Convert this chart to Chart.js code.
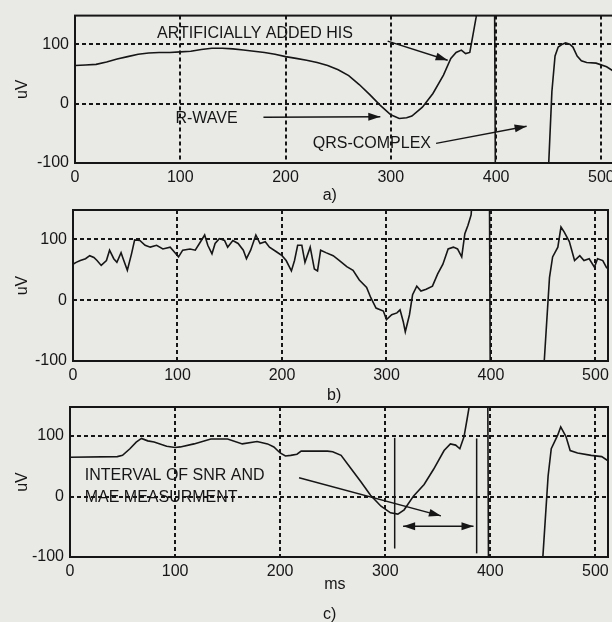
<!DOCTYPE html>
<html lang="en">
<head>
<meta charset="UTF-8">
<title>ECG with artificially added His signal</title>
<script src="https://cdn.jsdelivr.net/npm/chart.js"></script>
<style>
  html, body { margin: 0; padding: 0; }
  body {
    width: 612px;
    height: 622px;
    overflow: hidden;
    position: relative;
    background: #e9e9e6;
  }
  canvas { position: absolute; left: 0; }
</style>
</head>
<body>
<canvas id="chartA" width="640" height="205" style="top:0px"></canvas>
<canvas id="chartB" width="640" height="220" style="top:190px"></canvas>
<canvas id="chartC" width="640" height="232" style="top:390px"></canvas>
<script>
const xTicks = [0, 100, 200, 300, 400, 500];
const yTicks = [-100, 0, 100];

// a) clean signal with the artificially added His
const aMs = [0,10,20,30,40,50,60,70,80,90,100,110,120,130,140,150,160,170,180,190,200,210,220,230,240,250,260,270,280,290,300,308,315,320,330,340,350,357,362,367,371,375,378,381,386,392,398,400,449,450,453,456,459,463,466,470,473,477,481,486,495,505,512];
const aUv = [64,65,66,70,75,79,83,85,86,86,87,88,91,93,93,92,90,88,86,83,79,76,73,69,64,57,47,32,15,-3,-19,-25,-24,-21,-6,17,48,76,86,90,84,86,115,145,260,400,400,-400,-400,-100,20,80,95,100,102,100,95,80,72,69,68,62,54];

// b) noisy signal
const bMs = [0,3,7,12,16,20,23,27,32,35,39,42,46,48,52,56,59,64,69,74,80,86,93,97,101,105,112,117,121,126,129,133,136,140,145,148,153,158,163,166,170,175,179,184,188,195,200,204,209,212,215,219,222,227,231,234,237,242,249,255,262,268,274,281,285,290,297,300,305,310,313,316,318,322,325,329,333,338,344,349,354,359,364,368,372,375,378,381,386,392,398,400,450,451,456,459,464,467,470,475,480,485,489,494,499,502,507,511];
const bUv = [59,62,65,68,73,70,65,57,65,82,68,62,78,68,49,76,99,98,90,87,90,84,87,79,71,82,84,82,93,107,90,76,93,101,98,87,98,93,82,68,82,107,93,96,87,79,73,65,48,65,90,90,62,87,51,48,82,78,73,65,55,49,33,21,4,-13,-18,-32,-24,-21,-16,-35,-52,-24,9,23,15,18,23,43,59,84,87,84,71,109,123,140,260,400,400,-400,-400,-100,37,71,87,120,112,96,65,73,65,68,54,68,65,52];

// c) filtered signal
const cMs = [0,45,50,57,63,68,74,80,92,100,105,118,134,150,164,178,188,194,200,205,210,216,220,232,245,250,258,267,277,286,296,305,312,318,327,337,346,356,362,367,371,375,378,381,390,397,399,449,450,455,458,464,467,472,476,483,496,506,512];
const cUv = [65,66,68,79,90,96,92,90,83,81,82,87,95,95,87,91,87,82,72,67,68,70,75,75,75,74,68,47,24,2,-16,-27,-29,-22,1,20,45,76,87,85,79,99,129,160,400,400,-400,-400,-100,34,79,101,115,99,76,72,68,66,59];

const INK = '#161616';
const FONT = '"Liberation Sans", Arial, sans-serif';

function arrowHead(ctx, x1, y1, x2, y2) {
  const a = Math.atan2(y2 - y1, x2 - x1);
  ctx.beginPath();
  ctx.moveTo(x2, y2);
  ctx.lineTo(x2 - 12 * Math.cos(a) + 4 * Math.sin(a), y2 - 12 * Math.sin(a) - 4 * Math.cos(a));
  ctx.lineTo(x2 - 12 * Math.cos(a) - 4 * Math.sin(a), y2 - 12 * Math.sin(a) + 4 * Math.cos(a));
  ctx.closePath();
  ctx.fill();
}

function makeChart(id, ms, uv, box, notes) {
  const canvas = document.getElementById(id);
  const W = canvas.width, H = canvas.height;

  // frame, texts and arrows, placed in data units
  const notesPlugin = {
    id: 'notes',
    afterDraw(chart) {
      const ctx = chart.ctx;
      const xs = chart.scales.x, ys = chart.scales.y;
      const a = chart.chartArea;
      ctx.save();
      ctx.strokeStyle = INK;
      ctx.fillStyle = INK;
      ctx.lineWidth = 2;
      ctx.strokeRect(a.left, a.top, a.right - a.left, a.bottom - a.top);

      ctx.lineWidth = 1.5;
      (notes.arrows || []).forEach(n => {
        const x1 = xs.getPixelForValue(n.x1), y1 = ys.getPixelForValue(n.y1);
        const x2 = xs.getPixelForValue(n.x2), y2 = ys.getPixelForValue(n.y2);
        ctx.beginPath();
        ctx.moveTo(x1, y1);
        ctx.lineTo(x2, y2);
        ctx.stroke();
        if (n.head === 'end' || n.head === 'both') arrowHead(ctx, x1, y1, x2, y2);
        if (n.head === 'both') arrowHead(ctx, x2, y2, x1, y1);
      });

      ctx.font = '16px ' + FONT;
      ctx.textBaseline = 'middle';
      (notes.texts || []).forEach(n => {
        ctx.textAlign = n.align || 'center';
        ctx.fillText(n.t, xs.getPixelForValue(n.x), ys.getPixelForValue(n.y));
      });
      ctx.restore();
    }
  };

  return new Chart(canvas.getContext('2d'), {
    type: 'line',
    data: {
      datasets: [{
        data: ms.map((x, i) => ({ x: x, y: uv[i] })),
        borderColor: INK,
        borderWidth: 1.6,
        pointRadius: 0,
        tension: 0,
        fill: false
      }]
    },
    options: {
      responsive: false,
      animation: false,
      events: [],
      layout: { padding: { left: 0, top: box.top, right: W - box.right, bottom: 0 } },
      plugins: { legend: { display: false }, tooltip: { enabled: false } },
      scales: {
        x: {
          type: 'linear',
          min: 0,
          max: 512,
          afterBuildTicks: s => { s.ticks = xTicks.map(v => ({ value: v })); },
          afterFit: s => { s.height = H - box.bottom; },
          grid: { color: INK, lineWidth: 2, drawTicks: false },
          border: { display: false, dash: [4, 3] },
          ticks: { color: INK, padding: 5, maxRotation: 0, font: { family: FONT, size: 16 } }
        },
        y: {
          min: -100,
          max: 148,
          afterBuildTicks: s => { s.ticks = yTicks.map(v => ({ value: v })); },
          afterFit: s => { s.width = box.left; },
          grid: { color: INK, lineWidth: 2, drawTicks: false },
          border: { display: false, dash: [4, 3] },
          ticks: { color: INK, padding: 6, font: { family: FONT, size: 16 } },
          title: { display: true, text: 'uV', color: INK, padding: { top: 13, bottom: 0 }, font: { family: FONT, size: 16 } }
        }
      }
    },
    plugins: [notesPlugin]
  });
}

makeChart('chartA', aMs, aUv, { left: 75, top: 14, right: 614, bottom: 163 }, {
  texts: [
    { t: 'ARTIFICIALLY ADDED HIS', x: 171, y: 117 },
    { t: 'R-WAVE', x: 125, y: -25 },
    { t: 'QRS-COMPLEX', x: 282, y: -68 },
    { t: 'a)', x: 242, y: -155 }
  ],
  arrows: [
    { x1: 297, y1: 105, x2: 354, y2: 73, head: 'end' },
    { x1: 179, y1: -23, x2: 290, y2: -22, head: 'end' },
    { x1: 343, y1: -67, x2: 429, y2: -38, head: 'end' }
  ]
});

makeChart('chartB', bMs, bUv, { left: 73, top: 20, right: 608, bottom: 171 }, {
  texts: [{ t: 'b)', x: 250, y: -157 }]
});

makeChart('chartC', cMs, cUv, { left: 70, top: 17, right: 608, bottom: 167 }, {
  texts: [
    { t: 'INTERVAL OF SNR AND', x: 14, y: 34, align: 'left' },
    { t: 'MAE MEASURMENT', x: 14, y: -1, align: 'left' },
    { t: 'ms', x: 252, y: -145 },
    { t: 'c)', x: 247, y: -195 }
  ],
  arrows: [
    { x1: 218, y1: 31, x2: 353, y2: -32, head: 'end' },
    { x1: 317, y1: -49, x2: 384, y2: -49, head: 'both' },
    { x1: 309, y1: 97, x2: 309, y2: -86, head: 'none' },
    { x1: 387, y1: 96, x2: 387, y2: -94, head: 'none' }
  ]
});
</script>
</body>
</html>
